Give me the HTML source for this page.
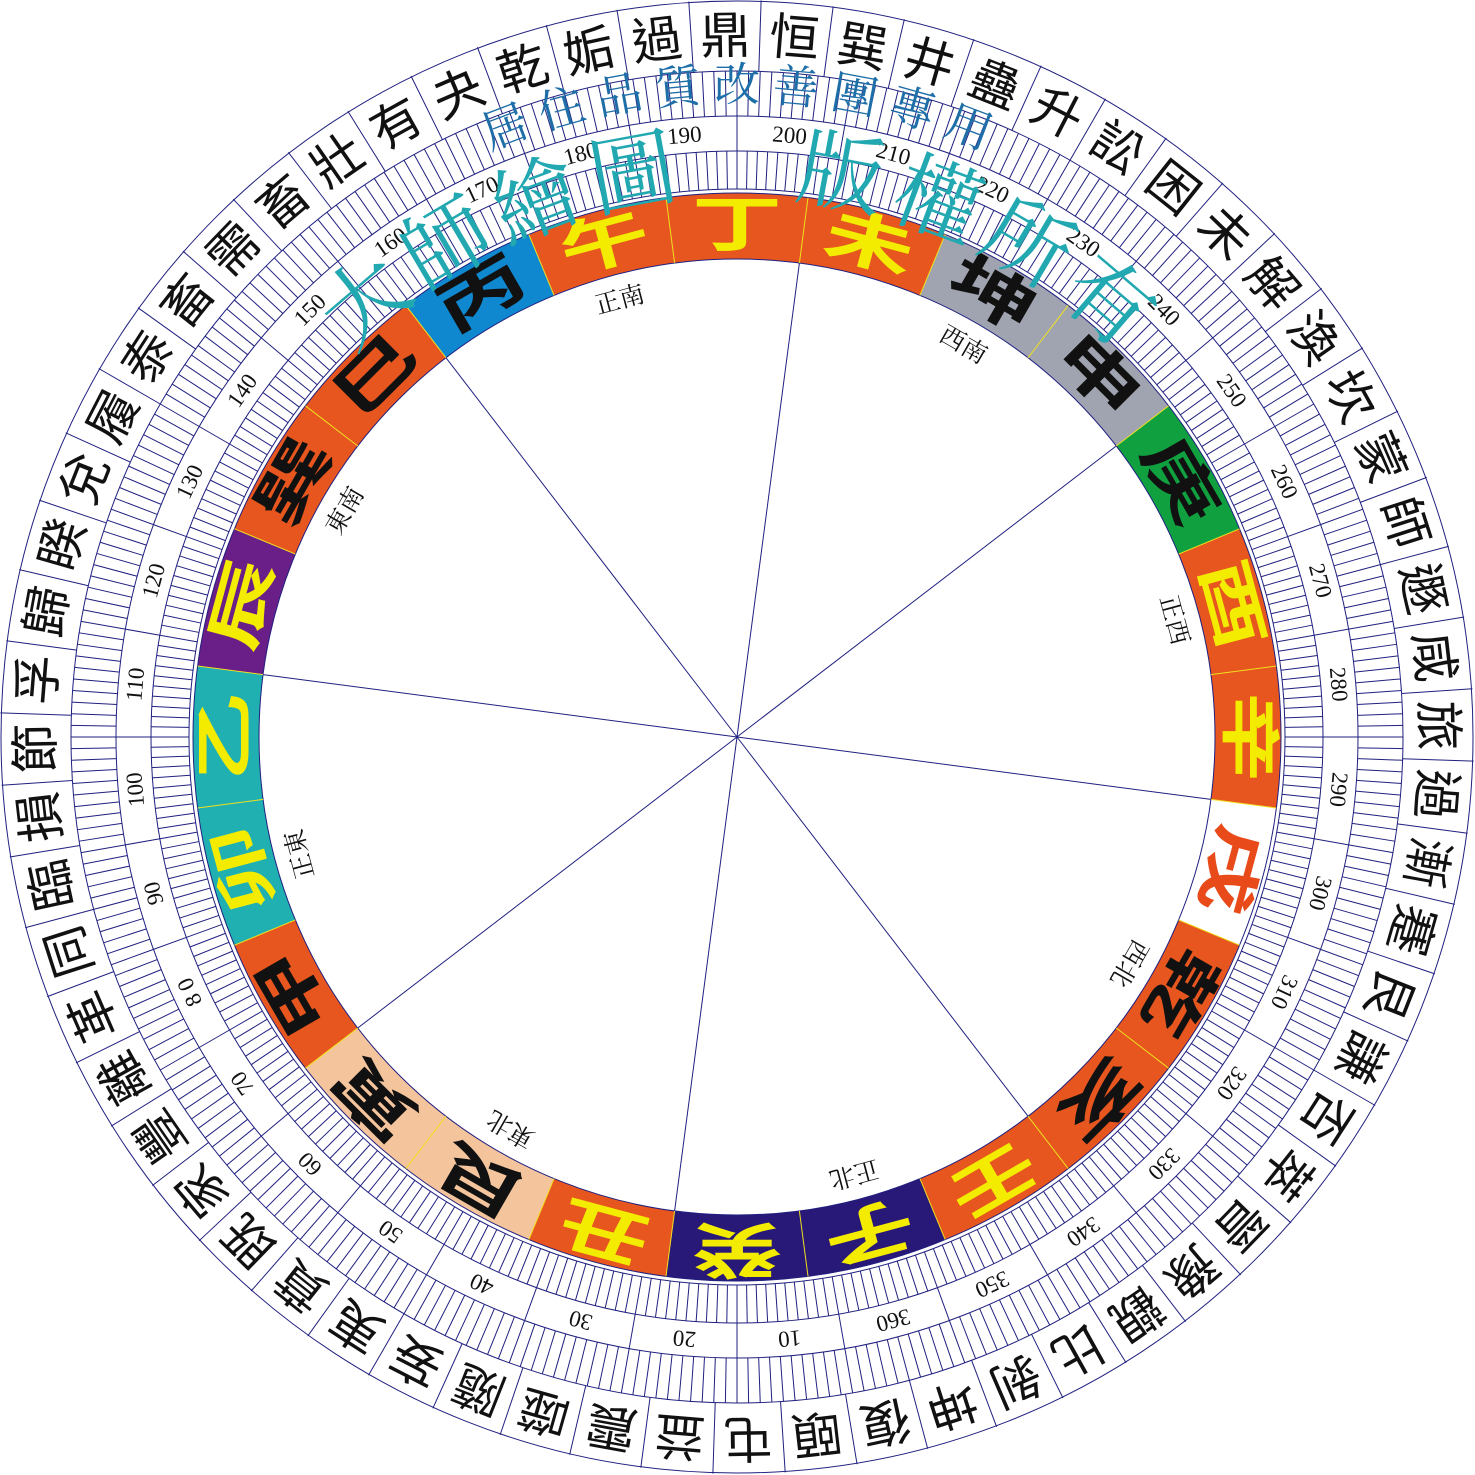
<!DOCTYPE html>
<html><head><meta charset="utf-8"><style>
html,body{margin:0;padding:0;background:#fff;width:1475px;height:1475px;overflow:hidden}
svg{display:block}
.hx{font-family:"Liberation Sans","Noto Sans CJK TC",sans-serif;font-size:50px;fill:#111}
.mt{font-family:"Liberation Sans","Noto Sans CJK TC",sans-serif;font-weight:700;font-size:60px}
.nm{font-family:"Liberation Serif",serif;font-size:23px;fill:#111}
.dr{font-family:"Liberation Serif","Noto Serif CJK SC",serif;font-size:25px;fill:#111}
.wt{font-family:"Liberation Serif","Noto Serif CJK SC",serif;font-size:86px;fill:#22a8b0}
.wb{font-family:"Liberation Serif","Noto Serif CJK SC",serif;font-size:46px;fill:#1e6ea8}
</style></head><body>
<svg width="1475" height="1475" viewBox="0 0 1475 1475" xmlns="http://www.w3.org/2000/svg">
<defs>
<g id="t10" stroke="#202080" stroke-width="1">
<line y1="-621" y2="-666"/><line y1="-621" y2="-666" transform="rotate(1)"/><line y1="-621" y2="-666" transform="rotate(2)"/><line y1="-621" y2="-666" transform="rotate(3)"/><line y1="-621" y2="-666" transform="rotate(4)"/><line y1="-621" y2="-666" transform="rotate(5)"/><line y1="-621" y2="-666" transform="rotate(6)"/><line y1="-621" y2="-666" transform="rotate(7)"/><line y1="-621" y2="-666" transform="rotate(8)"/><line y1="-621" y2="-666" transform="rotate(9)"/>
<line y1="-548" y2="-586"/><line y1="-548" y2="-586" transform="rotate(1)"/><line y1="-548" y2="-586" transform="rotate(2)"/><line y1="-548" y2="-586" transform="rotate(3)"/><line y1="-548" y2="-586" transform="rotate(4)"/><line y1="-548" y2="-586" transform="rotate(5)"/><line y1="-548" y2="-586" transform="rotate(6)"/><line y1="-548" y2="-586" transform="rotate(7)"/><line y1="-548" y2="-586" transform="rotate(8)"/><line y1="-548" y2="-586" transform="rotate(9)"/>
<line y1="-586" y2="-621"/>
</g>
<g id="h8" stroke="#202080" stroke-width="1">
<line y1="-666" y2="-737"/><line y1="-666" y2="-737" transform="rotate(5.625)"/><line y1="-666" y2="-737" transform="rotate(11.25)"/><line y1="-666" y2="-737" transform="rotate(16.875)"/><line y1="-666" y2="-737" transform="rotate(22.5)"/><line y1="-666" y2="-737" transform="rotate(28.125)"/><line y1="-666" y2="-737" transform="rotate(33.75)"/><line y1="-666" y2="-737" transform="rotate(39.375)"/>
</g>
</defs>
<g transform="translate(737,737)" text-anchor="middle" dominant-baseline="central">
<!-- mountain ring colours -->
<g fill="none" stroke-width="66">
<circle r="511" pathLength="360" stroke-dasharray="15 345" stroke="#281878" transform="rotate(67.5)"/>
<circle r="511" pathLength="360" stroke-dasharray="15 345" stroke="#281878" transform="rotate(82.5)"/>
<circle r="511" pathLength="360" stroke-dasharray="15 345" stroke="#e6561e" transform="rotate(97.5)"/>
<circle r="511" pathLength="360" stroke-dasharray="15 345" stroke="#f4c49c" transform="rotate(112.5)"/>
<circle r="511" pathLength="360" stroke-dasharray="15 345" stroke="#f4c49c" transform="rotate(127.5)"/>
<circle r="511" pathLength="360" stroke-dasharray="15 345" stroke="#e6561e" transform="rotate(142.5)"/>
<circle r="511" pathLength="360" stroke-dasharray="15 345" stroke="#20b0b2" transform="rotate(157.5)"/>
<circle r="511" pathLength="360" stroke-dasharray="15 345" stroke="#20b0b2" transform="rotate(172.5)"/>
<circle r="511" pathLength="360" stroke-dasharray="15 345" stroke="#6a1e88" transform="rotate(187.5)"/>
<circle r="511" pathLength="360" stroke-dasharray="15 345" stroke="#e6561e" transform="rotate(202.5)"/>
<circle r="511" pathLength="360" stroke-dasharray="15 345" stroke="#e6561e" transform="rotate(217.5)"/>
<circle r="511" pathLength="360" stroke-dasharray="15 345" stroke="#1088d0" transform="rotate(232.5)"/>
<circle r="511" pathLength="360" stroke-dasharray="15 345" stroke="#e6561e" transform="rotate(247.5)"/>
<circle r="511" pathLength="360" stroke-dasharray="15 345" stroke="#e6561e" transform="rotate(262.5)"/>
<circle r="511" pathLength="360" stroke-dasharray="15 345" stroke="#e6561e" transform="rotate(277.5)"/>
<circle r="511" pathLength="360" stroke-dasharray="15 345" stroke="#a0a4b0" transform="rotate(292.5)"/>
<circle r="511" pathLength="360" stroke-dasharray="15 345" stroke="#a0a4b0" transform="rotate(307.5)"/>
<circle r="511" pathLength="360" stroke-dasharray="15 345" stroke="#10a040" transform="rotate(322.5)"/>
<circle r="511" pathLength="360" stroke-dasharray="15 345" stroke="#e6561e" transform="rotate(337.5)"/>
<circle r="511" pathLength="360" stroke-dasharray="15 345" stroke="#e6561e" transform="rotate(352.5)"/>
<circle r="511" pathLength="360" stroke-dasharray="15 345" stroke="#ffffff" transform="rotate(367.5)"/>
<circle r="511" pathLength="360" stroke-dasharray="15 345" stroke="#e6561e" transform="rotate(382.5)"/>
<circle r="511" pathLength="360" stroke-dasharray="15 345" stroke="#e6561e" transform="rotate(397.5)"/>
<circle r="511" pathLength="360" stroke-dasharray="15 345" stroke="#e6561e" transform="rotate(412.5)"/>
</g>
<!-- circles -->
<g fill="none" stroke="#202080" stroke-width="1">
<circle r="736"/><circle r="666"/><circle r="621"/><circle r="586"/><circle r="548"/><circle r="544"/><circle r="478"/>
</g>
<!-- ticks -->
<g>
<use href="#t10"/><use href="#t10" transform="rotate(10)"/><use href="#t10" transform="rotate(20)"/><use href="#t10" transform="rotate(30)"/><use href="#t10" transform="rotate(40)"/><use href="#t10" transform="rotate(50)"/><use href="#t10" transform="rotate(60)"/><use href="#t10" transform="rotate(70)"/><use href="#t10" transform="rotate(80)"/><use href="#t10" transform="rotate(90)"/><use href="#t10" transform="rotate(100)"/><use href="#t10" transform="rotate(110)"/><use href="#t10" transform="rotate(120)"/><use href="#t10" transform="rotate(130)"/><use href="#t10" transform="rotate(140)"/><use href="#t10" transform="rotate(150)"/><use href="#t10" transform="rotate(160)"/><use href="#t10" transform="rotate(170)"/><use href="#t10" transform="rotate(180)"/><use href="#t10" transform="rotate(190)"/><use href="#t10" transform="rotate(200)"/><use href="#t10" transform="rotate(210)"/><use href="#t10" transform="rotate(220)"/><use href="#t10" transform="rotate(230)"/><use href="#t10" transform="rotate(240)"/><use href="#t10" transform="rotate(250)"/><use href="#t10" transform="rotate(260)"/><use href="#t10" transform="rotate(270)"/><use href="#t10" transform="rotate(280)"/><use href="#t10" transform="rotate(290)"/><use href="#t10" transform="rotate(300)"/><use href="#t10" transform="rotate(310)"/><use href="#t10" transform="rotate(320)"/><use href="#t10" transform="rotate(330)"/><use href="#t10" transform="rotate(340)"/><use href="#t10" transform="rotate(350)"/>
</g>
<g>
<use href="#h8" transform="rotate(165)"/><use href="#h8" transform="rotate(210)"/><use href="#h8" transform="rotate(255)"/><use href="#h8" transform="rotate(300)"/><use href="#h8" transform="rotate(345)"/><use href="#h8" transform="rotate(30)"/><use href="#h8" transform="rotate(75)"/><use href="#h8" transform="rotate(120)"/>
</g>
<!-- mountain separators -->
<g stroke="#f0e020" stroke-width="1">
<line y1="-478" y2="-544" transform="rotate(7.5)"/><line y1="-478" y2="-544" transform="rotate(22.5)"/><line y1="-478" y2="-544" transform="rotate(37.5)"/><line y1="-478" y2="-544" transform="rotate(52.5)"/><line y1="-478" y2="-544" transform="rotate(67.5)"/><line y1="-478" y2="-544" transform="rotate(82.5)"/><line y1="-478" y2="-544" transform="rotate(97.5)"/><line y1="-478" y2="-544" transform="rotate(112.5)"/><line y1="-478" y2="-544" transform="rotate(127.5)"/><line y1="-478" y2="-544" transform="rotate(142.5)"/><line y1="-478" y2="-544" transform="rotate(157.5)"/><line y1="-478" y2="-544" transform="rotate(172.5)"/><line y1="-478" y2="-544" transform="rotate(187.5)"/><line y1="-478" y2="-544" transform="rotate(202.5)"/><line y1="-478" y2="-544" transform="rotate(217.5)"/><line y1="-478" y2="-544" transform="rotate(232.5)"/><line y1="-478" y2="-544" transform="rotate(247.5)"/><line y1="-478" y2="-544" transform="rotate(262.5)"/><line y1="-478" y2="-544" transform="rotate(277.5)"/><line y1="-478" y2="-544" transform="rotate(292.5)"/><line y1="-478" y2="-544" transform="rotate(307.5)"/><line y1="-478" y2="-544" transform="rotate(322.5)"/><line y1="-478" y2="-544" transform="rotate(337.5)"/><line y1="-478" y2="-544" transform="rotate(352.5)"/>
</g>
<!-- spokes -->
<g stroke="#202080" stroke-width="1">
<line y2="-478" transform="rotate(-172.5)"/><line y2="-478" transform="rotate(-127.5)"/><line y2="-478" transform="rotate(-82.5)"/><line y2="-478" transform="rotate(-37.5)"/>
<line y2="-478" transform="rotate(7.5)"/><line y2="-478" transform="rotate(52.5)"/><line y2="-478" transform="rotate(97.5)"/><line y2="-478" transform="rotate(142.5)"/>
</g>
<!-- hexagrams -->
<g class="hx">
<text transform="rotate(-192.19) translate(0,-701)">復</text>
<text transform="rotate(-186.56) translate(0,-701)">頤</text>
<text transform="rotate(-180.94) translate(0,-701)">屯</text>
<text transform="rotate(-175.31) translate(0,-701)">益</text>
<text transform="rotate(-169.69) translate(0,-701)">震</text>
<text transform="rotate(-164.06) translate(0,-701)">噬</text>
<text transform="rotate(-158.44) translate(0,-701)">隨</text>
<text transform="rotate(-152.81) translate(0,-701)">妄</text>
<text transform="rotate(-147.19) translate(0,-701)">夷</text>
<text transform="rotate(-141.56) translate(0,-701)">賁</text>
<text transform="rotate(-135.94) translate(0,-701)">既</text>
<text transform="rotate(-130.31) translate(0,-701)">家</text>
<text transform="rotate(-124.69) translate(0,-701)">豐</text>
<text transform="rotate(-119.06) translate(0,-701)">離</text>
<text transform="rotate(-113.44) translate(0,-701)">革</text>
<text transform="rotate(-107.81) translate(0,-701)">同</text>
<text transform="rotate(-102.19) translate(0,-701)">臨</text>
<text transform="rotate(-96.56) translate(0,-701)">損</text>
<text transform="rotate(-90.94) translate(0,-701)">節</text>
<text transform="rotate(-85.31) translate(0,-701)">孚</text>
<text transform="rotate(-79.69) translate(0,-701)">歸</text>
<text transform="rotate(-74.06) translate(0,-701)">睽</text>
<text transform="rotate(-68.44) translate(0,-701)">兌</text>
<text transform="rotate(-62.81) translate(0,-701)">履</text>
<text transform="rotate(-57.19) translate(0,-701)">泰</text>
<text transform="rotate(-51.56) translate(0,-701)">畜</text>
<text transform="rotate(-45.94) translate(0,-701)">需</text>
<text transform="rotate(-40.31) translate(0,-701)">畜</text>
<text transform="rotate(-34.69) translate(0,-701)">壯</text>
<text transform="rotate(-29.06) translate(0,-701)">有</text>
<text transform="rotate(-23.44) translate(0,-701)">夬</text>
<text transform="rotate(-17.81) translate(0,-701)">乾</text>
<text transform="rotate(-12.19) translate(0,-701)">姤</text>
<text transform="rotate(-6.56) translate(0,-701)">過</text>
<text transform="rotate(-0.94) translate(0,-701)">鼎</text>
<text transform="rotate(4.69) translate(0,-701)">恒</text>
<text transform="rotate(10.31) translate(0,-701)">巽</text>
<text transform="rotate(15.94) translate(0,-701)">井</text>
<text transform="rotate(21.56) translate(0,-701)">蠱</text>
<text transform="rotate(27.19) translate(0,-701)">升</text>
<text transform="rotate(32.81) translate(0,-701)">訟</text>
<text transform="rotate(38.44) translate(0,-701)">困</text>
<text transform="rotate(44.06) translate(0,-701)">未</text>
<text transform="rotate(49.69) translate(0,-701)">解</text>
<text transform="rotate(55.31) translate(0,-701)">渙</text>
<text transform="rotate(60.94) translate(0,-701)">坎</text>
<text transform="rotate(66.56) translate(0,-701)">蒙</text>
<text transform="rotate(72.19) translate(0,-701)">師</text>
<text transform="rotate(77.81) translate(0,-701)">遯</text>
<text transform="rotate(83.44) translate(0,-701)">咸</text>
<text transform="rotate(89.06) translate(0,-701)">旅</text>
<text transform="rotate(94.69) translate(0,-701)">過</text>
<text transform="rotate(100.31) translate(0,-701)">漸</text>
<text transform="rotate(105.94) translate(0,-701)">蹇</text>
<text transform="rotate(111.56) translate(0,-701)">艮</text>
<text transform="rotate(117.19) translate(0,-701)">謙</text>
<text transform="rotate(122.81) translate(0,-701)">否</text>
<text transform="rotate(128.44) translate(0,-701)">萃</text>
<text transform="rotate(134.06) translate(0,-701)">晉</text>
<text transform="rotate(139.69) translate(0,-701)">豫</text>
<text transform="rotate(145.31) translate(0,-701)">觀</text>
<text transform="rotate(150.94) translate(0,-701)">比</text>
<text transform="rotate(156.56) translate(0,-701)">剝</text>
<text transform="rotate(162.19) translate(0,-701)">坤</text>
</g>
<!-- degree numbers -->
<g class="nm">
<text transform="rotate(-185) translate(0,-604)">10</text>
<text transform="rotate(-175) translate(0,-604)">20</text>
<text transform="rotate(-165) translate(0,-604)">30</text>
<text transform="rotate(-155) translate(0,-604)">40</text>
<text transform="rotate(-145) translate(0,-604)">50</text>
<text transform="rotate(-135) translate(0,-604)">60</text>
<text transform="rotate(-125) translate(0,-604)">70</text>
<text transform="rotate(-115) translate(0,-604)">8 0</text>
<text transform="rotate(-105) translate(0,-604)">90</text>
<text transform="rotate(-95) translate(0,-604)">100</text>
<text transform="rotate(-85) translate(0,-604)">110</text>
<text transform="rotate(-75) translate(0,-604)">120</text>
<text transform="rotate(-65) translate(0,-604)">130</text>
<text transform="rotate(-55) translate(0,-604)">140</text>
<text transform="rotate(-45) translate(0,-604)">150</text>
<text transform="rotate(-35) translate(0,-604)">160</text>
<text transform="rotate(-25) translate(0,-604)">170</text>
<text transform="rotate(-15) translate(0,-604)">180</text>
<text transform="rotate(-5) translate(0,-604)">190</text>
<text transform="rotate(5) translate(0,-604)">200</text>
<text transform="rotate(15) translate(0,-604)">210</text>
<text transform="rotate(25) translate(0,-604)">220</text>
<text transform="rotate(35) translate(0,-604)">230</text>
<text transform="rotate(45) translate(0,-604)">240</text>
<text transform="rotate(55) translate(0,-604)">250</text>
<text transform="rotate(65) translate(0,-604)">260</text>
<text transform="rotate(75) translate(0,-604)">270</text>
<text transform="rotate(85) translate(0,-604)">280</text>
<text transform="rotate(95) translate(0,-604)">290</text>
<text transform="rotate(105) translate(0,-604)">300</text>
<text transform="rotate(115) translate(0,-604)">310</text>
<text transform="rotate(125) translate(0,-604)">320</text>
<text transform="rotate(135) translate(0,-604)">330</text>
<text transform="rotate(145) translate(0,-604)">340</text>
<text transform="rotate(155) translate(0,-604)">350</text>
<text transform="rotate(165) translate(0,-604)">360</text>
</g>
<!-- mountains -->
<g class="mt">
<text transform="rotate(-195) translate(0,-511) scale(1.5,1)" fill="#f4ec00">子</text>
<text transform="rotate(-180) translate(0,-511) scale(1.5,1)" fill="#f4ec00">癸</text>
<text transform="rotate(-165) translate(0,-511) scale(1.5,1)" fill="#f4ec00">丑</text>
<text transform="rotate(-150) translate(0,-511) scale(1.5,1)" fill="#111">艮</text>
<text transform="rotate(-135) translate(0,-511) scale(1.5,1)" fill="#111">寅</text>
<text transform="rotate(-120) translate(0,-511) scale(1.5,1)" fill="#111">甲</text>
<text transform="rotate(-105) translate(0,-511) scale(1.5,1)" fill="#f4ec00">卯</text>
<text transform="rotate(-90) translate(0,-511) scale(1.5,1)" fill="#f4ec00">乙</text>
<text transform="rotate(-75) translate(0,-511) scale(1.5,1)" fill="#f4ec00">辰</text>
<text transform="rotate(-60) translate(0,-511) scale(1.5,1)" fill="#111">巽</text>
<text transform="rotate(-45) translate(0,-511) scale(1.5,1)" fill="#111">巳</text>
<text transform="rotate(-30) translate(0,-511) scale(1.5,1)" fill="#111">丙</text>
<text transform="rotate(-15) translate(0,-511) scale(1.5,1)" fill="#f4ec00">午</text>
<text transform="rotate(0) translate(0,-511) scale(1.5,1)" fill="#f4ec00">丁</text>
<text transform="rotate(15) translate(0,-511) scale(1.5,1)" fill="#f4ec00">未</text>
<text transform="rotate(30) translate(0,-511) scale(1.5,1)" fill="#111">坤</text>
<text transform="rotate(45) translate(0,-511) scale(1.5,1)" fill="#111">申</text>
<text transform="rotate(60) translate(0,-511) scale(1.5,1)" fill="#111">庚</text>
<text transform="rotate(75) translate(0,-511) scale(1.5,1)" fill="#f4ec00">酉</text>
<text transform="rotate(90) translate(0,-511) scale(1.5,1)" fill="#f4ec00">辛</text>
<text transform="rotate(105) translate(0,-511) scale(1.5,1)" fill="#e84a1a">戌</text>
<text transform="rotate(120) translate(0,-511) scale(1.5,1)" fill="#111">乾</text>
<text transform="rotate(135) translate(0,-511) scale(1.5,1)" fill="#111">亥</text>
<text transform="rotate(150) translate(0,-511) scale(1.5,1)" fill="#f4ec00">壬</text>
</g>
<!-- directions -->
<g class="dr">
<text transform="rotate(-15) translate(0,-452)">正南</text>
<text transform="rotate(30) translate(0,-452)">西南</text>
<text transform="rotate(75) translate(0,-452)">正西</text>
<text transform="rotate(120) translate(0,-452)">西北</text>
<text transform="rotate(165) translate(0,-452)">正北</text>
<text transform="rotate(210) translate(0,-452)">東北</text>
<text transform="rotate(255) translate(0,-452)">正東</text>
<text transform="rotate(300) translate(0,-452)">東南</text>
</g>
<!-- watermarks -->
<g class="wb">
<text transform="rotate(-20.8) translate(0,-652)">居</text>
<text transform="rotate(-15.6) translate(0,-652)">住</text>
<text transform="rotate(-10.4) translate(0,-652)">品</text>
<text transform="rotate(-5.2) translate(0,-652)">質</text>
<text transform="rotate(0) translate(0,-652)">改</text>
<text transform="rotate(5.2) translate(0,-652)">善</text>
<text transform="rotate(10.4) translate(0,-652)">團</text>
<text transform="rotate(15.6) translate(0,-652)">專</text>
<text transform="rotate(20.8) translate(0,-652)">用</text>
</g>
<g class="wt">
<text transform="rotate(-40.5) translate(0,-572)">大</text>
<text transform="rotate(-30.5) translate(0,-572)">師</text>
<text transform="rotate(-20.5) translate(0,-572)">繪</text>
<text transform="rotate(-10.5) translate(0,-572)">圖</text>
<text transform="rotate(10.5) translate(0,-572)">版</text>
<text transform="rotate(20.5) translate(0,-572)">權</text>
<text transform="rotate(30.5) translate(0,-572)">所</text>
<text transform="rotate(40.5) translate(0,-572)">有</text>
</g>
</g>
</svg>
</body></html>
